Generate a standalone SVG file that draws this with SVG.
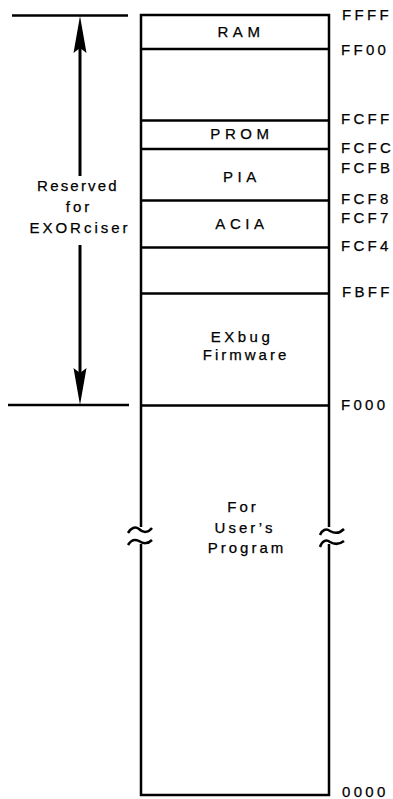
<svg xmlns="http://www.w3.org/2000/svg" width="393" height="799" viewBox="0 0 393 799">
<defs>
<style>
.ln{stroke:#000;stroke-width:2.5;fill:none;stroke-linecap:butt}
.t{font-family:"Liberation Sans",Arial,sans-serif;font-size:15px;fill:#000;stroke:#000;stroke-width:0.25;letter-spacing:3px;text-anchor:middle}
.c{letter-spacing:4.6px}
.a{font-family:"Liberation Sans",Arial,sans-serif;font-size:15px;fill:#000;stroke:#000;stroke-width:0.25;letter-spacing:3.3px}
</style>
</defs>
<rect width="393" height="799" fill="#fff"/>
<g id="connectors">
<line class="ln" x1="12" y1="15.5" x2="128" y2="15.5"/>
<line class="ln" x1="8" y1="405" x2="129" y2="405"/>
<path class="ln" d="M80,46 V176" style="stroke-width:3"/>
<path class="ln" d="M80,245 V375" style="stroke-width:3"/>
<path d="M80,16 L86.5,53 L80,48 L73.5,53 Z" fill="#000"/>
<path d="M80,405 L86.5,368 L80,373 L73.5,368 Z" fill="#000"/>
</g>
<g id="memory-box">
<path class="ln" d="M141,527 V15 H329 V527"/>
<path class="ln" d="M141,544 V795 H329 V544"/>
<path class="ln" d="M128,533 C131,528 135,526 139,529 C143,533 148,533 152,528"/>
<path class="ln" d="M128,545 C131,540 135,539 139,541 C143,544 148,544 152,540"/>
<path class="ln" d="M320,535 C322,530 326,528 330,531 C335,534 340,533 344,529"/>
<path class="ln" d="M320,547 C322,541 326,539 330,542 C335,545 340,544 344,541"/>
</g>
<g id="ram"><line class="ln" x1="141" y1="49" x2="329" y2="49"/><text class="t c" x="241" y="37">RAM</text></g>
<g id="prom"><line class="ln" x1="141" y1="120.5" x2="329" y2="120.5"/><text class="t c" x="242" y="139">PROM</text></g>
<g id="pia"><line class="ln" x1="141" y1="149" x2="329" y2="149"/><text class="t c" x="242" y="182">PIA</text></g>
<g id="acia"><line class="ln" x1="141" y1="200.5" x2="329" y2="200.5"/><text class="t c" x="242" y="229">ACIA</text></g>
<g id="gap"><line class="ln" x1="141" y1="247.5" x2="329" y2="247.5"/></g>
<g id="exbug"><line class="ln" x1="141" y1="293.5" x2="329" y2="293.5"/><text class="t" x="242" y="342" style="letter-spacing:3.5px">EXbug</text><text class="t" x="246" y="360">Firmware</text></g>
<g id="user"><line class="ln" x1="141" y1="405.5" x2="329" y2="405.5"/><text class="t" x="243" y="512">For</text><text class="t" x="245" y="533">User’s</text><text class="t" x="247" y="553">Program</text></g>
<g id="reserved"><text class="t" x="78" y="191" style="letter-spacing:2.2px">Reserved</text><text class="t" x="79" y="212">for</text><text class="t" x="80" y="233">EXORciser</text></g>
<g id="addresses">
<text class="a" x="342" y="20">FFFF</text>
<text class="a" x="341" y="55">FF00</text>
<text class="a" x="341" y="124">FCFF</text>
<text class="a" x="341" y="153">FCFC</text>
<text class="a" x="341" y="173">FCFB</text>
<text class="a" x="341" y="204">FCF8</text>
<text class="a" x="341" y="223">FCF7</text>
<text class="a" x="341" y="251">FCF4</text>
<text class="a" x="342" y="297">FBFF</text>
<text class="a" x="341" y="410">F000</text>
<text class="a" x="342" y="797">0000</text>
</g>
</svg>
